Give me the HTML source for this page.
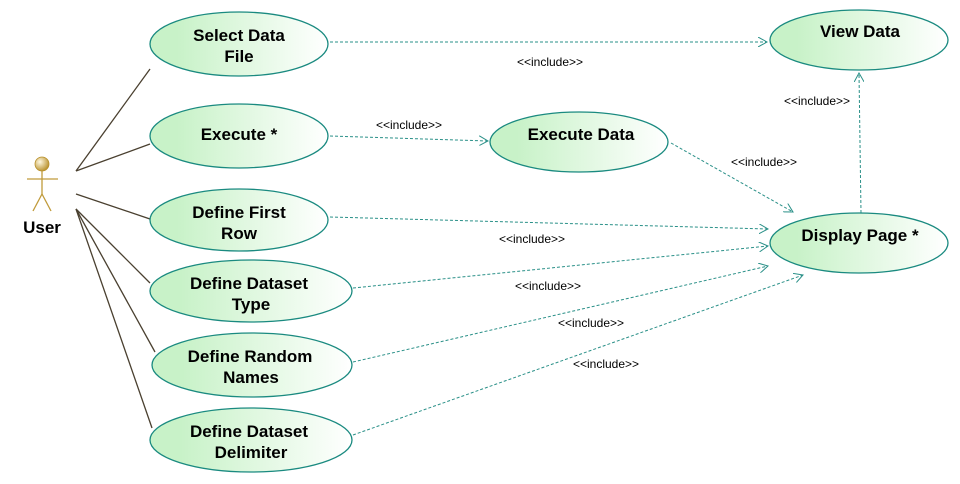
<!DOCTYPE html>
<html><head><style>body{margin:0;background:#fff}svg{display:block}
text{font-family:"Liberation Sans",sans-serif}
.t{font-weight:bold;font-size:17px;text-anchor:middle}
.i{font-size:12px;text-anchor:middle}
</style></head><body>
<svg width="960" height="484" viewBox="0 0 960 484" xmlns="http://www.w3.org/2000/svg">
<defs>
<linearGradient id="g" x1="0" x2="1" y1="0" y2="0"><stop offset="0.15" stop-color="#c8f2c8"/><stop offset="1" stop-color="#ffffff"/></linearGradient>
<radialGradient id="h" cx="0.35" cy="0.35" r="0.7"><stop offset="0" stop-color="#fff8e0"/><stop offset="1" stop-color="#b8902a"/></radialGradient>
<marker id="a" markerWidth="10" markerHeight="10" refX="9" refY="5" orient="auto" markerUnits="userSpaceOnUse"><path d="M0,0 L9,5 L0,10" fill="none" stroke="#2a9088" stroke-width="1"/></marker>
</defs>
<g stroke="#4a4030" stroke-width="1.3">
<line x1="76" y1="171" x2="150" y2="69"/>
<line x1="76" y1="171" x2="150" y2="144"/>
<line x1="76" y1="194" x2="150" y2="219"/>
<line x1="76" y1="209" x2="150" y2="283"/>
<line x1="76" y1="209" x2="155" y2="352"/>
<line x1="76" y1="209" x2="152" y2="428"/>
</g>
<g stroke="#2a9088" stroke-width="1" stroke-dasharray="3,2" fill="none" marker-end="url(#a)">
<line x1="330" y1="42" x2="767" y2="42"/>
<line x1="330" y1="136" x2="488" y2="141"/>
<line x1="671" y1="143" x2="793" y2="212"/>
<line x1="861" y1="213" x2="859" y2="73"/>
<line x1="330" y1="217" x2="768" y2="229"/>
<line x1="353" y1="288" x2="768" y2="246"/>
<line x1="353" y1="362" x2="768" y2="266"/>
<line x1="353" y1="435" x2="803" y2="275"/>
</g>
<g stroke="#1a8a80" stroke-width="1.3" fill="url(#g)">
<ellipse cx="239" cy="44" rx="89" ry="32"/>
<ellipse cx="239" cy="136" rx="89" ry="32"/>
<ellipse cx="239" cy="220" rx="89" ry="31"/>
<ellipse cx="251" cy="291" rx="101" ry="31"/>
<ellipse cx="252" cy="365" rx="100" ry="32"/>
<ellipse cx="251" cy="440" rx="101" ry="32"/>
<ellipse cx="579" cy="142" rx="89" ry="30"/>
<ellipse cx="859" cy="40" rx="89" ry="30"/>
<ellipse cx="859" cy="243" rx="89" ry="30"/>
</g>
<text class="t" x="239" y="41">Select Data</text><text class="t" x="239" y="62">File</text>
<text class="t" x="239" y="140">Execute *</text>
<text class="t" x="239" y="218">Define First</text><text class="t" x="239" y="239">Row</text>
<text class="t" x="249" y="289">Define Dataset</text><text class="t" x="251" y="310">Type</text>
<text class="t" x="250" y="362">Define Random</text><text class="t" x="251" y="383">Names</text>
<text class="t" x="249" y="437">Define Dataset</text><text class="t" x="251" y="458">Delimiter</text>
<text class="t" x="581" y="140">Execute Data</text>
<text class="t" x="860" y="37">View Data</text>
<text class="t" x="860" y="241">Display Page *</text>
<text class="i" x="550" y="66">&lt;&lt;include&gt;&gt;</text>
<text class="i" x="409" y="129">&lt;&lt;include&gt;&gt;</text>
<text class="i" x="764" y="166">&lt;&lt;include&gt;&gt;</text>
<text class="i" x="817" y="105">&lt;&lt;include&gt;&gt;</text>
<text class="i" x="532" y="243">&lt;&lt;include&gt;&gt;</text>
<text class="i" x="548" y="290">&lt;&lt;include&gt;&gt;</text>
<text class="i" x="591" y="327">&lt;&lt;include&gt;&gt;</text>
<text class="i" x="606" y="368">&lt;&lt;include&gt;&gt;</text>
<g stroke="#c09a3a" stroke-width="1.3" fill="none">
<line x1="42" y1="171" x2="42" y2="194"/>
<line x1="27" y1="179" x2="58" y2="179"/>
<line x1="42" y1="194" x2="33" y2="211"/>
<line x1="42" y1="194" x2="51" y2="211"/>
</g>
<circle cx="42" cy="164" r="7" fill="url(#h)" stroke="#b8902a" stroke-width="0.8"/>
<text class="t" x="42" y="233">User</text>
</svg>
</body></html>
